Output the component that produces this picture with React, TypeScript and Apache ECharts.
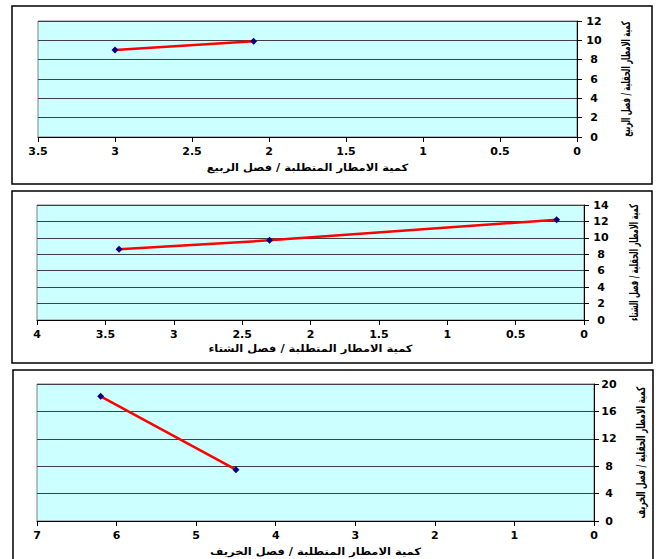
import React, { useEffect, useRef } from 'react';
import * as echarts from 'echarts';

// Required rainfall (x) against field rainfall (y) for each season
const springRequired = [3.0, 2.1];
const springActual = [9.0, 9.9];
const winterRequired = [3.4, 2.3, 0.2];
const winterActual = [8.6, 9.7, 12.2];
const autumnRequired = [6.2, 4.5];
const autumnActual = [18.2, 7.5];

// Axis ranges: [max, interval]
const xRanges = [
  [3.5, 0.5],
  [4, 0.5],
  [7, 1],
];
const yRanges = [
  [12, 2],
  [14, 2],
  [20, 4],
];

const xTitles = [
  'كمية الامطار المتطلبة / فصل الربيع',
  'كمية الامطار المتطلبة / فصل الشتاء',
  'كمية الامطار المتطلبة / فصل الخريف',
];
const yTitles = [
  'كمية الامطار الحقلية / فصل الربيع',
  'كمية الامطار الحقلية / فصل الشتاء',
  'كمية الامطار الحقلية / فصل الخريف',
];

// Layout of each panel: plot rectangle, frame and title anchors
const plots = [
  { left: 38, right: 577, top: 21, bottom: 137 },
  { left: 37, right: 584, top: 205, bottom: 320 },
  { left: 37, right: 594, top: 384, bottom: 521 },
];
const frames = [
  { x: 12, y: 6, w: 640, h: 178 },
  { x: 12, y: 191, w: 640, h: 172 },
  { x: 13, y: 370, w: 640, h: 200 },
];
const xTitleY = [168, 349, 552];
const yTitleX = [626, 634, 641];
const yTitleScale = [0.57, 0.57, 0.62];
const yLabelMargin = [17, 17, 15];

const W = 660;
const H = 559;
const tickFont = 'DejaVu Sans';

function zip(xs: number[], ys: number[]) {
  return xs.map((x, i) => [x, ys[i]]);
}

export default function App() {
  const ref = useRef<HTMLDivElement>(null);

  useEffect(() => {
    if (!ref.current) return;
    const chart = echarts.init(ref.current, null, { renderer: 'svg' });

    const seriesData = [
      zip(springRequired, springActual),
      zip(winterRequired, winterActual),
      zip(autumnRequired, autumnActual),
    ];

    const grid = plots.map((p) => ({
      left: p.left,
      top: p.top,
      width: p.right - p.left,
      height: p.bottom - p.top,
      show: true,
      backgroundColor: '#CCFFFF',
      borderColor: '#808080',
      borderWidth: 1,
      containLabel: false,
    }));

    const xAxis = xRanges.map(([max, interval], i) => ({
      type: 'value',
      gridIndex: i,
      min: 0,
      max,
      interval,
      inverse: true,
      position: 'bottom',
      axisLine: { show: true, onZero: false, lineStyle: { color: '#000', width: 1 } },
      axisTick: { show: true, length: 5, inside: false, lineStyle: { color: '#000' } },
      axisLabel: {
        color: '#000',
        fontFamily: tickFont,
        fontWeight: 'bold',
        fontSize: 11,
        margin: 9,
      },
      splitLine: { show: false },
    }));

    const yAxis = yRanges.map(([max, interval], i) => ({
      type: 'value',
      gridIndex: i,
      min: 0,
      max,
      interval,
      position: 'right',
      axisLine: { show: true, onZero: false, lineStyle: { color: '#000', width: 1 } },
      axisTick: { show: true, length: 5, inside: false, lineStyle: { color: '#000' } },
      axisLabel: {
        color: '#000',
        fontFamily: tickFont,
        fontWeight: 'bold',
        fontSize: 11,
        align: 'center',
        margin: yLabelMargin[i],
      },
      splitLine: { show: true, lineStyle: { color: '#404040', width: 1 } },
    }));

    const series = seriesData.map((data, i) => ({
      type: 'line',
      xAxisIndex: i,
      yAxisIndex: i,
      data,
      symbol: 'diamond',
      symbolSize: 7,
      itemStyle: { color: '#000080' },
      lineStyle: { color: '#FF0000', width: 2.5 },
      silent: true,
    }));

    const graphic: any[] = [];
    frames.forEach((f) => {
      graphic.push({
        type: 'rect',
        shape: { x: f.x, y: f.y, width: f.w, height: f.h },
        style: { fill: 'none', stroke: '#000', lineWidth: 1.5 },
        silent: true,
      });
    });
    plots.forEach((p, i) => {
      graphic.push({
        type: 'text',
        x: (p.left + p.right) / 2,
        y: xTitleY[i],
        scaleX: 1.15,
        style: {
          text: xTitles[i],
          font: 'bold 10px "DejaVu Sans"',
          fill: '#000',
          textAlign: 'center',
          textVerticalAlign: 'middle',
        },
        silent: true,
      });
      graphic.push({
        type: 'text',
        x: yTitleX[i],
        y: (p.top + p.bottom) / 2,
        rotation: Math.PI / 2,
        scaleX: yTitleScale[i],
        style: {
          text: yTitles[i],
          font: 'bold 12px "DejaVu Sans"',
          fill: '#000',
          textAlign: 'center',
          textVerticalAlign: 'middle',
        },
        silent: true,
      });
    });

    chart.setOption({
      animation: false,
      backgroundColor: '#fff',
      grid,
      xAxis,
      yAxis,
      series,
      graphic,
    });

    return () => chart.dispose();
  }, []);

  return (
    <div
      ref={ref}
      style={{ position: 'absolute', left: 0, top: 0, width: W, height: H }}
    />
  );
}
